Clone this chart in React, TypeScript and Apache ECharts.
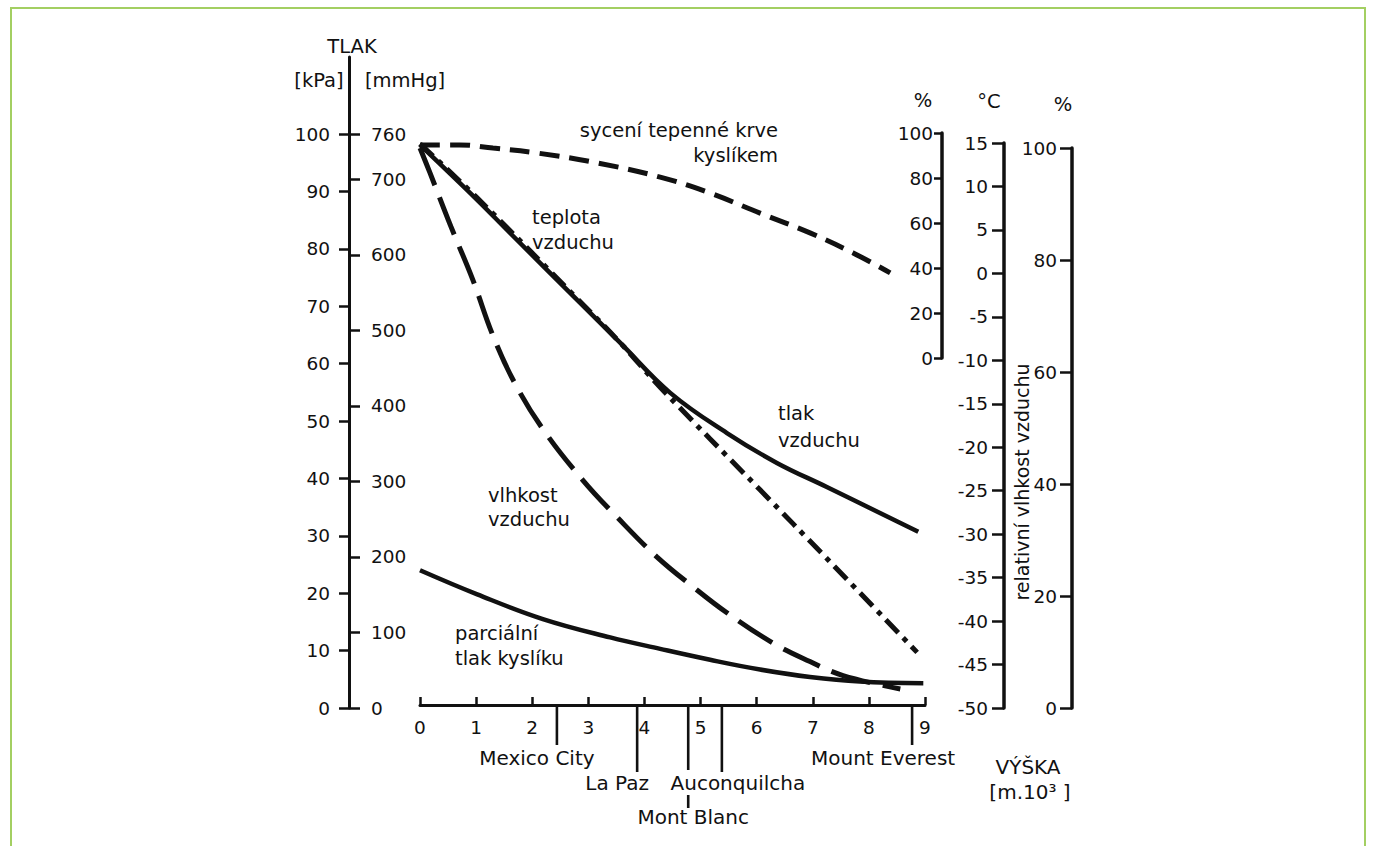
import React, { useEffect, useRef } from "react";
import * as echarts from "echarts";

// ---------- data ----------
// x: altitude in km (x 10^3 m)
const altitudeTicks = [0, 1, 2, 3, 4, 5, 6, 7, 8, 9];

// air pressure [kPa]
const pressureKm = [0, 1.0, 1.6, 2.8, 3.57, 4.46, 5.47, 6.36, 7.25, 8.88];
const pressureKPa = [98.1, 88.7, 82.8, 71.1, 63.6, 54.9, 47.9, 42.7, 38.5, 30.7];

// partial pressure of oxygen [kPa]
const oxygenKm = [0, 1.02, 2.19, 3.39, 4.28, 5.17, 6.06, 6.95, 7.84, 8.97];
const oxygenKPa = [24.0, 19.8, 15.5, 12.3, 10.3, 8.4, 6.7, 5.4, 4.6, 4.3];

// arterial blood oxygen saturation [%]
const saturationKm = [0, 0.71, 1.3, 2.09, 3.16, 4.28, 5.17, 6.06, 6.95, 7.72, 8.38];
const saturationPct = [94.7, 94.7, 93.3, 91.1, 86.7, 80.4, 73.3, 64.4, 55.6, 46.7, 37.8];

// air temperature [°C]
const temperatureKm = [0, 1.0, 2.8, 3.57, 4.28, 6.06, 7.25, 8.86];
const temperatureC = [14.9, 8.8, -2.9, -8.0, -13.1, -24.9, -32.8, -43.6];

// relative humidity [%]
const humidityKm = [0, 0.18, 0.55, 0.94, 1.3, 1.69, 2.19, 2.9, 3.51, 4.22, 4.87, 5.47, 6.29, 6.95, 7.54, 8.56];
const humidityPct = [100, 95.5, 86.0, 76.5, 66.5, 58.0, 49.8, 40.7, 34.1, 27.0, 21.6, 17.0, 11.6, 8.3, 5.8, 3.4];

// landmarks on the altitude axis
const landmarkNames = ["Mexico City", "La Paz", "Mont Blanc", "Auconquilcha", "Mount Everest"];
const landmarkKm = [2.44, 3.87, 4.78, 5.38, 8.77];

// tick labels
const kPaTicks = [0, 10, 20, 30, 40, 50, 60, 70, 80, 90, 100];
const mmHgTicks = [0, 100, 200, 300, 400, 500, 600, 700, 760];

// ---------- layout / style ----------
const INK = "#111111";
const FONT = "'DejaVu Sans', 'Liberation Sans', sans-serif";
const TICK_SIZE = 18.5;
const PLOT_LEFT = 420;
const PLOT_WIDTH = 505;
const AXIS_BOTTOM = 708;
const LEFT_TOP = 57; // top of left axis line
const KPA100_Y = 134; // y where 100 kPa / 760 mmHg lie
const kPaMax = (100 * (AXIS_BOTTOM - LEFT_TOP)) / (AXIS_BOTTOM - KPA100_Y);
const mmHgMax = (760 * (AXIS_BOTTOM - LEFT_TOP)) / (AXIS_BOTTOM - KPA100_Y);

// per-landmark label layout (offsets from the tick point on the axis)
const landmarkLayout = [
  { len: 40, dx: -20, dy: 53 },
  { len: 67, dx: -20, dy: 78 },
  { len: 65, tail: [90, 103], dx: 5, dy: 112 },
  { len: 67, dx: 16, dy: 78 },
  { len: 40, dx: -29, dy: 53 },
];

const pairs = (xs: number[], ys: number[]) => xs.map((x, i) => [x, ys[i]]);

const labelStyle = { fontSize: TICK_SIZE, color: INK, fontFamily: FONT };

const hiddenX = (gridIndex: number) => ({
  gridIndex,
  type: "value",
  min: 0,
  max: 9,
  show: false,
});

const txt = (
  text: string,
  x: number,
  y: number,
  align: string = "center",
  size: number = 18.5,
  extra: any = {}
) => ({
  type: "text",
  x,
  y,
  silent: true,
  ...extra,
  style: {
    text,
    fill: INK,
    fontSize: size,
    fontFamily: FONT,
    textAlign: align,
    align,
    textVerticalAlign: "middle",
    verticalAlign: "middle",
  },
});

const lineSeries = (
  name: string,
  xIdx: number,
  yIdx: number,
  data: number[][],
  type: any,
  width: number
) => ({
  name,
  type: "line",
  xAxisIndex: xIdx,
  yAxisIndex: yIdx,
  data,
  smooth: 0.4,
  symbol: "none",
  showSymbol: false,
  silent: true,
  lineStyle: { color: INK, width, type, cap: "butt" },
});

const option: any = {
  animation: false,
  backgroundColor: "#ffffff",
  textStyle: { fontFamily: FONT },
  grid: [
    { left: PLOT_LEFT, width: PLOT_WIDTH, top: LEFT_TOP, height: AXIS_BOTTOM - LEFT_TOP }, // 0 pressure
    { left: PLOT_LEFT, width: PLOT_WIDTH, top: 133, height: 358 - 133 }, // 1 saturation
    { left: PLOT_LEFT, width: PLOT_WIDTH, top: 143, height: AXIS_BOTTOM - 143 }, // 2 temperature
    { left: PLOT_LEFT, width: PLOT_WIDTH, top: 148, height: AXIS_BOTTOM - 148 }, // 3 humidity
    { left: PLOT_LEFT, width: PLOT_WIDTH, top: LEFT_TOP, height: 705 - LEFT_TOP }, // 4 altitude axis
  ],
  xAxis: [
    {
      gridIndex: 4,
      type: "value",
      min: 0,
      max: 9,
      interval: 1,
      position: "bottom",
      axisLine: { show: true, onZero: false, lineStyle: { color: INK, width: 3 } },
      axisTick: { show: true, inside: true, length: 8, lineStyle: { color: INK, width: 2.5 } },
      axisLabel: { ...labelStyle, margin: 13, customValues: altitudeTicks },
      splitLine: { show: false },
    },
    hiddenX(0),
    hiddenX(1),
    hiddenX(2),
    hiddenX(3),
  ],
  yAxis: [
    {
      gridIndex: 0,
      type: "value",
      position: "left",
      offset: PLOT_LEFT - 349,
      min: 0,
      max: kPaMax,
      axisLine: { show: true, onZero: false, lineStyle: { color: INK, width: 3 } },
      axisTick: { show: true, length: 10, customValues: kPaTicks, lineStyle: { color: INK, width: 2.5 } },
      axisLabel: { ...labelStyle, margin: 19, customValues: kPaTicks },
      splitLine: { show: false },
    },
    {
      gridIndex: 0,
      type: "value",
      position: "left",
      offset: PLOT_LEFT - 349,
      min: 0,
      max: mmHgMax,
      axisLine: { show: false, onZero: false },
      axisTick: { show: true, inside: true, length: 11, customValues: mmHgTicks, lineStyle: { color: INK, width: 2.5 } },
      axisLabel: { ...labelStyle, inside: true, margin: 22, customValues: mmHgTicks },
      splitLine: { show: false },
    },
    {
      gridIndex: 1,
      type: "value",
      position: "right",
      offset: 942 - (PLOT_LEFT + PLOT_WIDTH),
      min: 0,
      max: 100,
      interval: 20,
      axisLine: { show: true, onZero: false, lineStyle: { color: INK, width: 3.5 } },
      axisTick: { show: true, inside: true, length: 8, lineStyle: { color: INK, width: 2.5 } },
      axisLabel: { ...labelStyle, inside: true, margin: 9 },
      splitLine: { show: false },
    },
    {
      gridIndex: 2,
      type: "value",
      position: "right",
      offset: 1004 - (PLOT_LEFT + PLOT_WIDTH),
      min: -50,
      max: 15,
      interval: 5,
      axisLine: { show: true, onZero: false, lineStyle: { color: INK, width: 3.5 } },
      axisTick: { show: true, inside: true, length: 12, lineStyle: { color: INK, width: 2.5 } },
      axisLabel: { ...labelStyle, inside: true, margin: 16 },
      splitLine: { show: false },
    },
    {
      gridIndex: 3,
      type: "value",
      position: "right",
      offset: 1072 - (PLOT_LEFT + PLOT_WIDTH),
      min: 0,
      max: 100,
      interval: 20,
      axisLine: { show: true, onZero: false, lineStyle: { color: INK, width: 3.5 } },
      axisTick: { show: true, inside: true, length: 12, lineStyle: { color: INK, width: 2.5 } },
      axisLabel: { ...labelStyle, inside: true, margin: 15 },
      splitLine: { show: false },
    },
    { gridIndex: 4, type: "value", min: 0, max: 1, show: false },
  ],
  series: [
    lineSeries("teplota vzduchu", 3, 3, pairs(temperatureKm, temperatureC), [18, 7, 5, 7], 5),
    lineSeries("tlak vzduchu", 1, 0, pairs(pressureKm, pressureKPa), "solid", 4.5),
    lineSeries("parciální tlak kyslíku", 1, 0, pairs(oxygenKm, oxygenKPa), "solid", 4.5),
    lineSeries("sycení tepenné krve kyslíkem", 2, 2, pairs(saturationKm, saturationPct), [20, 10], 5),
    lineSeries("vlhkost vzduchu", 4, 4, pairs(humidityKm, humidityPct), [40, 13], 5),
    {
      name: "landmarks",
      type: "custom",
      xAxisIndex: 0,
      yAxisIndex: 5,
      silent: true,
      clip: false,
      data: landmarkKm.map((k, i) => [k, 0, i]),
      encode: { x: 0, y: 1 },
      renderItem: (params: any, api: any) => {
        const i = params.dataIndex;
        const p = api.coord([api.value(0), 0]);
        const x = p[0];
        const y0 = p[1];
        const lay: any = landmarkLayout[i];
        const stroke = { stroke: INK, lineWidth: 2.6 };
        const children: any[] = [
          { type: "line", shape: { x1: x, y1: y0, x2: x, y2: y0 + lay.len }, style: stroke },
        ];
        if (lay.tail) {
          children.push({
            type: "line",
            shape: { x1: x, y1: y0 + lay.tail[0], x2: x, y2: y0 + lay.tail[1] },
            style: stroke,
          });
        }
        children.push({
          type: "text",
          style: {
            text: landmarkNames[i],
            x: x + lay.dx,
            y: y0 + lay.dy,
            fill: INK,
            fontSize: 20,
            fontFamily: FONT,
            textAlign: "center",
            align: "center",
            textVerticalAlign: "middle",
            verticalAlign: "middle",
          },
        });
        return { type: "group", children };
      },
    },
  ],
  graphic: [
    {
      type: "rect",
      silent: true,
      shape: { x: 11, y: 8, width: 1354, height: 900 },
      style: { fill: "none", stroke: "#a3cf62", lineWidth: 2 },
    },
    txt("TLAK", 352, 46, "center", 19.5),
    txt("[kPa]", 319, 80, "center", 19.5),
    txt("[mmHg]", 405, 80, "center", 19.5),
    txt("%", 923, 100, "center", 19.5),
    txt("°C", 989, 101, "center", 19.5),
    txt("%", 1063, 104, "center", 19.5),
    txt("sycení tepenné krve", 778, 130, "right", 19.5),
    txt("kyslíkem", 778, 155, "right", 19.5),
    txt("teplota", 532, 217, "left", 19.5),
    txt("vzduchu", 532, 242, "left", 19.5),
    txt("tlak", 778, 413, "left", 19.5),
    txt("vzduchu", 778, 440, "left", 19.5),
    txt("vlhkost", 488, 495, "left", 19.5),
    txt("vzduchu", 488, 519, "left", 19.5),
    txt("parciální", 455, 633, "left", 19.5),
    txt("tlak kyslíku", 455, 658, "left", 19.5),
    txt("relativní vlhkost vzduchu", 1022, 482, "center", 19, { rotation: Math.PI / 2 }),
    txt("VÝŠKA", 1028, 767, "center", 20),
    txt("[m.10³ ]", 1030, 792, "center", 20),
  ],
};

export default function App() {
  const ref = useRef<HTMLDivElement>(null);
  useEffect(() => {
    if (!ref.current) return;
    const chart = echarts.init(ref.current, null, { renderer: "svg" });
    chart.setOption(option);
    return () => chart.dispose();
  }, []);
  return (
    <div
      ref={ref}
      style={{ position: "fixed", left: 0, top: 0, width: 1375, height: 846, background: "#fff" }}
    />
  );
}
